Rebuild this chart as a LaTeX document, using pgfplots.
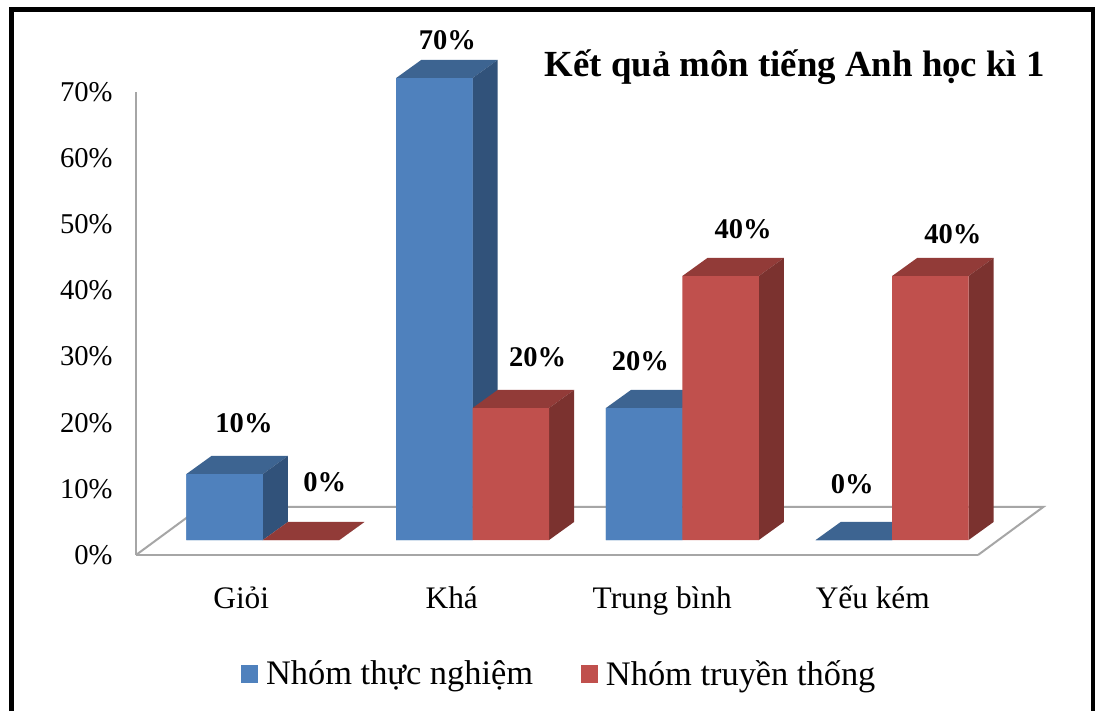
\documentclass[border=0pt]{standalone}
\usepackage{pgfplots}
\pgfplotsset{compat=1.18}
\usepackage{fontspec}
\setmainfont{Liberation Serif}
\definecolor{bluefront}{HTML}{4F81BD}
\definecolor{bluetop}{HTML}{3D6491}
\definecolor{blueside}{HTML}{31527A}
\definecolor{redfront}{HTML}{C0504D}
\definecolor{redtop}{HTML}{923B38}
\definecolor{redside}{HTML}{7B322F}
\definecolor{wall}{HTML}{A6A6A6}
% faces of a bar: left edge, value, top colour, side colour
\newcommand{\barfaces}[4]{%
  \pgfmathsetmacro{\xa}{#1}%
  \pgfmathsetmacro{\xb}{#1+0.3645}%
  \pgfmathsetmacro{\xc}{#1+0.3645+0.1192}%
  \pgfmathsetmacro{\xd}{#1+0.1192}%
  \pgfmathsetmacro{\ya}{#2}%
  \pgfmathsetmacro{\yb}{#2+2.73}%
  \pgfmathsetmacro{\yz}{2.73}%
  \edef\doplot{\noexpand\addplot[forget plot,fill=#3,draw=none] coordinates {(\xa,\ya) (\xd,\yb) (\xc,\yb) (\xb,\ya)} -- cycle;}\doplot
  \edef\doplot{\noexpand\addplot[forget plot,fill=#4,draw=none] coordinates {(\xb,0) (\xc,\yz) (\xc,\yb) (\xb,\ya)} -- cycle;}\doplot
}
\newcommand{\legendsq}[1]{\fill[#1] (0pt,-6.4pt) rectangle (12.6pt,6.4pt);}
\begin{document}
\begin{tikzpicture}
\path[use as bounding box,fill=white] (0,0) rectangle (821.25pt,533.25pt);
\draw[line width=3.6pt,black,miter limit=10] (8.6pt,0pt) -- (8.6pt,526pt) -- (820pt,526pt) -- (820pt,0pt);
% wall and floor
\begin{axis}[
  name=wallaxis,
  at={(102pt,117pt)},anchor=south west,
  scale only axis,width=631.5pt,height=347.25pt,
  xmin=-0.5,xmax=3.5,ymin=0,ymax=70,
  clip=false,
  axis x line=bottom,axis y line=left,
  axis line style={wall,line width=1.5pt,-},
  major tick length=0pt,
  xtick={0,1,2,3},
  xticklabels={Giỏi,Khá,Trung bình,Yếu kém},
  ytick={0,10,20,30,40,50,60,70},
  /pgf/number format/assume math mode=true,
  yticklabel={\pgfmathprintnumber{\tick}\%},
  yticklabel style={anchor=east,xshift=-14pt,font=\fontsize{21.5}{25}\selectfont,black},
  xticklabel style={anchor=base,yshift=-40pt,font=\fontsize{23.5}{28}\selectfont,black},
]
\addplot[wall,line width=1.5pt,forget plot] coordinates {(-0.5,0) (-0.19,7.26) (3.81,7.26) (3.5,0)};
\end{axis}
% bars
\begin{axis}[
  at={(118.5pt,128.25pt)},anchor=south west,
  scale only axis,width=629.25pt,height=346.5pt,
  xmin=-0.5,xmax=3.5,ymin=0,ymax=70,
  clip=false,
  axis line style={draw=none},
  major tick length=0pt,
  xtick=\empty,ytick=\empty,
  title={\textbf{Kết quả môn tiếng Anh học kì 1}},
  title style={at={(0.759,1.006)},anchor=center,font=\fontsize{27.6}{32}\selectfont},
  legend style={at={(0.099,-0.29)},anchor=west,draw=none,fill=none,
    font=\fontsize{25.8}{30}\selectfont,legend columns=2,inner sep=0pt,
    /tikz/every odd column/.append style={column sep=4pt},
    /tikz/every even column/.append style={column sep=34pt}},
  legend cell align=left,
]
\barfaces{-0.3645}{10}{bluetop}{blueside}
\addplot[ybar,bar width=0.3645,bar shift=-0.18225,fill=bluefront,draw=none,
  legend image code/.code={\legendsq{bluefront}}] coordinates {(0,10) (1,70) (2,20) (3,0)};
\addlegendentry{Nhóm thực nghiệm}
\barfaces{0.6355}{70}{bluetop}{blueside}
\barfaces{1.6355}{20}{bluetop}{blueside}
\barfaces{2.6355}{0}{bluetop}{blueside}
\addplot[forget plot,ybar,bar width=0.3645,bar shift=-0.18225,fill=bluefront,draw=none] coordinates {(0,10) (1,70) (2,20) (3,0)};
\barfaces{0}{0}{redtop}{redside}
\barfaces{1}{20}{redtop}{redside}
\barfaces{2}{40}{redtop}{redside}
\barfaces{3}{40}{redtop}{redside}
\addplot[ybar,bar width=0.3645,bar shift=0.18225,fill=redfront,draw=none,
  legend image code/.code={\legendsq{redfront}}] coordinates {(0,0) (1,20) (2,40) (3,40)};
\addlegendentry{Nhóm truyền thống}
\begin{scope}[every node/.style={font=\fontsize{21.4}{25}\selectfont\bfseries,anchor=center}]
\node at (axis cs:-0.09,17.7) {10\%};
\node at (axis cs:0.295,8.8) {0\%};
\node at (axis cs:0.88,75.8) {70\%};
\node at (axis cs:1.31,27.7) {20\%};
\node at (axis cs:1.8,27.1) {20\%};
\node at (axis cs:2.29,47.1) {40\%};
\node at (axis cs:2.81,8.5) {0\%};
\node at (axis cs:3.29,46.4) {40\%};
\end{scope}
\end{axis}
\end{tikzpicture}
\end{document}
